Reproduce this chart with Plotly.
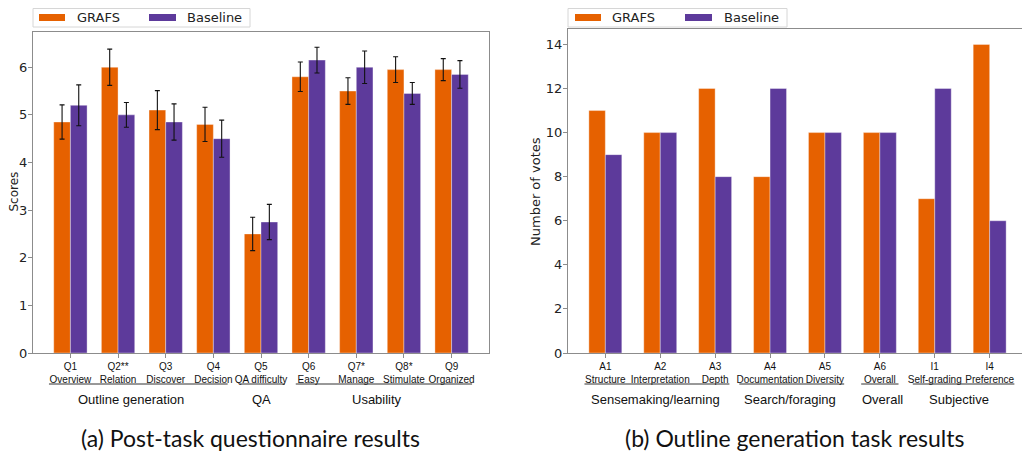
import plotly.graph_objects as go

# ---- data ----
q_codes = ["Q1", "Q2**", "Q3", "Q4", "Q5", "Q6", "Q7*", "Q8*", "Q9"]
q_names = ["Overview", "Relation", "Discover", "Decision", "QA difficulty",
           "Easy", "Manage", "Stimulate", "Organized"]
grafs_scores = [4.85, 6.0, 5.1, 4.8, 2.5, 5.8, 5.5, 5.95, 5.95]
grafs_err = [0.36, 0.38, 0.41, 0.36, 0.35, 0.31, 0.28, 0.27, 0.23]
base_scores = [5.2, 5.0, 4.85, 4.5, 2.75, 6.15, 6.0, 5.45, 5.85]
base_err = [0.43, 0.26, 0.38, 0.39, 0.37, 0.27, 0.34, 0.23, 0.29]

a_codes = ["A1", "A2", "A3", "A4", "A5", "A6", "I1", "I4"]
a_names = ["Structure", "Interpretation", "Depth", "Documentation",
           "Diversity", "Overall", "Self-grading", "Preference"]
grafs_votes = [11, 10, 12, 8, 10, 10, 7, 14]
base_votes = [9, 10, 8, 12, 10, 10, 12, 6]

series_names = ["GRAFS", "Baseline"]
left_groups = ["Outline generation", "QA", "Usability"]
right_groups = ["Sensemaking/learning", "Search/foraging", "Overall", "Subjective"]

# ---- style ----
ORANGE = "#E66100"
PURPLE = "#5D3A9B"
FRAME = "#8c8c8c"
OFF = 8  # page body margin
W, H = 1022, 454

def px_x(p):
    return (p - OFF) / W

def px_y(p):
    return 1 - (p - OFF) / H

fig = go.Figure()

xl = list(range(len(q_codes)))
xr = list(range(len(a_codes)))
edge = dict(color="rgba(255,255,255,0.6)", width=0.6)

fig.add_trace(go.Bar(x=xl, y=grafs_scores, width=0.35, offset=-0.35,
                     marker=dict(color=ORANGE, line=edge),
                     error_y=dict(type="data", array=grafs_err, color="#111111", thickness=1.1, width=2.5),
                     name=series_names[0], showlegend=False, xaxis="x", yaxis="y"))
fig.add_trace(go.Bar(x=xl, y=base_scores, width=0.35, offset=0,
                     marker=dict(color=PURPLE, line=edge),
                     error_y=dict(type="data", array=base_err, color="#111111", thickness=1.1, width=2.5),
                     name=series_names[1], showlegend=False, xaxis="x", yaxis="y"))
fig.add_trace(go.Bar(x=xr, y=grafs_votes, width=0.3, offset=-0.3,
                     marker=dict(color=ORANGE, line=edge),
                     name=series_names[0], showlegend=False, xaxis="x2", yaxis="y2"))
fig.add_trace(go.Bar(x=xr, y=base_votes, width=0.3, offset=0,
                     marker=dict(color=PURPLE, line=edge),
                     name=series_names[1], showlegend=False, xaxis="x2", yaxis="y2"))

tickfont_num = dict(family="DejaVu Sans", size=13, color="#222222")
tickfont_cat = dict(family="Liberation Sans", size=10, color="#111111")

axis_common = dict(showline=True, linecolor=FRAME, linewidth=1, mirror=True,
                   ticks="outside", ticklen=4, tickcolor=FRAME, showgrid=False,
                   zeroline=False, automargin=False)

fig.update_layout(
    width=W, height=H, margin=dict(l=0, r=0, t=0, b=0, autoexpand=False),
    plot_bgcolor="white", paper_bgcolor="white", barmode="overlay",
    xaxis=dict(domain=[px_x(33), px_x(489)], range=[-0.785, 8.785],
               tickvals=xl, ticktext=[f"{c}<br>{n}" for c, n in zip(q_codes, q_names)],
               tickfont=tickfont_cat, anchor="y", **axis_common),
    yaxis=dict(domain=[px_y(353), px_y(32)], range=[0, 6.74], dtick=1,
               tickfont=tickfont_num, anchor="x", ticklabelstandoff=-2, **axis_common),
    xaxis2=dict(domain=[px_x(568), px_x(1027)], range=[-0.68, 7.68],
                tickvals=xr, ticktext=[f"{c}<br>{n}" for c, n in zip(a_codes, a_names)],
                tickfont=tickfont_cat, anchor="y2", **axis_common),
    yaxis2=dict(domain=[px_y(353), px_y(29)], range=[0, 14.7], dtick=2,
                tickfont=tickfont_num, anchor="x2", ticklabelstandoff=-2, **axis_common),
)

# axis titles
for cx, title, fs in ((13.5, "Scores", 12), (535, "Number of votes", 13)):
    fig.add_annotation(xref="paper", yref="paper", x=px_x(cx), y=px_y(192),
                       xanchor="center", yanchor="middle", textangle=-90,
                       text=title, showarrow=False,
                       font=dict(family="DejaVu Sans", size=fs, color="#222222"))

# legends (drawn as boxes, patches and labels)
def add_legend(box_x0, box_x1, patch_xs, text_xs, cy):
    fig.add_shape(type="rect", xref="paper", yref="paper",
                  x0=px_x(box_x0), x1=px_x(box_x1), y0=px_y(8.5), y1=px_y(27),
                  line=dict(color="#d6d6d6", width=1), fillcolor="white", layer="above")
    for (p0, p1), tx, col, name in zip(patch_xs, text_xs, (ORANGE, PURPLE), series_names):
        fig.add_shape(type="rect", xref="paper", yref="paper",
                      x0=px_x(p0), x1=px_x(p1), y0=px_y(cy - 3.5), y1=px_y(cy + 3.5),
                      line=dict(width=0), fillcolor=col, layer="above")
        fig.add_annotation(xref="paper", yref="paper", x=px_x(tx), y=px_y(cy),
                           xanchor="left", yanchor="middle", text=name, showarrow=False,
                           font=dict(family="DejaVu Sans", size=13, color="#222222"))

add_legend(33, 250, [(39, 65), (149, 176)], [75, 185], 17.5)
add_legend(568, 787, [(575, 601), (685, 712)], [610, 722], 17.5)

# group underlines and labels
left_spans = [(-0.45, 3.3), (3.56, 4.5), (4.73, 8.43)]
left_centers = [1.28, 4.01, 6.43]
right_spans = [(-0.38, 2.26), (2.44, 4.35), (4.66, 5.34), (5.6, 7.45)]
right_centers = [0.91, 3.36, 5.04, 6.45]

line_y = px_y(384)
text_y = px_y(399)
for xref, spans, centers, labels in (("x", left_spans, left_centers, left_groups),
                                     ("x2", right_spans, right_centers, right_groups)):
    for (x0, x1), cx, lab in zip(spans, centers, labels):
        fig.add_shape(type="line", xref=xref, yref="paper", x0=x0, x1=x1, y0=line_y, y1=line_y,
                      line=dict(color="#333333", width=1))
        fig.add_annotation(xref=xref, yref="paper", x=cx, y=text_y, text=lab, showarrow=False,
                           xanchor="center", yanchor="middle",
                           font=dict(family="Liberation Sans", size=13, color="#111111"))

# captions
for cx, cap in ((250, "(a) Post-task questionnaire results"),
                (795, "(b) Outline generation task results")):
    fig.add_annotation(xref="paper", yref="paper", x=px_x(cx), y=px_y(438),
                       xanchor="center", yanchor="middle",
                       text=cap, showarrow=False,
                       font=dict(family="Lato", size=23, color="#111111"))

fig.write_html("out.html")
